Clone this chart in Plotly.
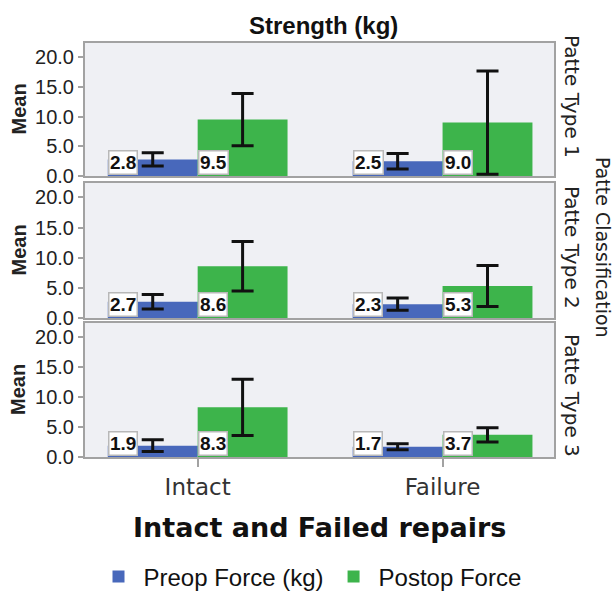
import plotly.graph_objects as go
from plotly.subplots import make_subplots

# ---------------- data ----------------
categories = ["Intact", "Failure"]
panel_names = ["Patte Type 1", "Patte Type 2", "Patte Type 3"]
series_names = ["Preop Force (kg)", "Postop Force"]

preop_t1 = [2.8, 2.5]
postop_t1 = [9.5, 9.0]
preop_err_t1 = [1.1, 1.3]
postop_err_t1 = [4.4, 8.7]

preop_t2 = [2.7, 2.3]
postop_t2 = [8.6, 5.3]
preop_err_t2 = [1.2, 1.0]
postop_err_t2 = [4.1, 3.4]

preop_t3 = [1.9, 1.7]
postop_t3 = [8.3, 3.7]
preop_err_t3 = [1.0, 0.5]
postop_err_t3 = [4.7, 1.2]

y_ticks = [0, 5, 10, 15, 20]

# ---------------- style ----------------
BLUE = "#4868bb"
GREEN = "#3db44b"
BORDER = "#a2a2a2"
PLOT_BG = "#eff0f4"
FONT_SANS = "Liberation Sans, Arial, sans-serif"
FONT_UI = "DejaVu Sans, Verdana, sans-serif"
BARGAP = 0.266
BAR_W = (1 - BARGAP) / 2

W, H = 613, 592
PLOT_LEFT, PLOT_RIGHT, PLOT_TOP, PLOT_BOTTOM = 85, 554, 43, 457
M_L, M_T = PLOT_LEFT, PLOT_TOP
M_R = W - PLOT_RIGHT
M_B = H - PLOT_BOTTOM
PLOT_H = PLOT_BOTTOM - PLOT_TOP
PLOT_W = PLOT_RIGHT - PLOT_LEFT
panel_px = [(43, 176), (183, 318), (323, 457)]  # top, bottom pixel rows
Y_MAX = 22.4


def py(pix):
    """pixel row -> paper y"""
    return (PLOT_BOTTOM - pix) / PLOT_H


def px(pix):
    """pixel column -> paper x"""
    return (pix - PLOT_LEFT) / PLOT_W


panels = [
    (preop_t1, postop_t1, preop_err_t1, postop_err_t1),
    (preop_t2, postop_t2, preop_err_t2, postop_err_t2),
    (preop_t3, postop_t3, preop_err_t3, postop_err_t3),
]

fig = make_subplots(rows=3, cols=1, shared_xaxes=False, vertical_spacing=0.02)
x_idx = list(range(len(categories)))
annotations = []

for r, (pre, post, pre_e, post_e) in enumerate(panels, start=1):
    for s, (vals, errs, col) in enumerate(
        [(pre, pre_e, BLUE), (post, post_e, GREEN)]
    ):
        fig.add_trace(
            go.Bar(
                x=x_idx,
                y=vals,
                name=series_names[s],
                marker=dict(color=col, line=dict(width=0)),
                error_y=dict(
                    type="data", array=errs, visible=True,
                    color="#111111", thickness=3, width=11,
                ),
                offsetgroup=str(s),
                showlegend=(r == 1),
                legendgroup=series_names[s],
                hoverinfo="skip",
            ),
            row=r, col=1,
        )
        xref = "x" if r == 1 else f"x{r}"
        yref = "y" if r == 1 else f"y{r}"
        for i, v in enumerate(vals):
            left = i - BAR_W if s == 0 else i
            annotations.append(dict(
                x=left, y=0, xref=xref, yref=yref,
                xanchor="left", yanchor="bottom", yshift=1,
                text=f"<b>{v:.1f}</b>", showarrow=False,
                font=dict(family=FONT_SANS, size=19, color="#111111"),
                bgcolor="white", bordercolor="#b8b8b8",
                borderwidth=1.5, borderpad=0.5,
            ))

    top, bot = panel_px[r - 1]
    dom = [py(bot), py(top)]
    yname = "yaxis" if r == 1 else f"yaxis{r}"
    xname = "xaxis" if r == 1 else f"xaxis{r}"
    fig.update_layout(**{
        yname: dict(
            domain=dom, range=[0, Y_MAX], tickvals=y_ticks,
            tickformat=".1f", ticks="outside", ticklen=5,
            tickcolor=BORDER, tickwidth=1.5,
            showline=True, mirror=True, linecolor=BORDER, linewidth=2,
            showgrid=False, zeroline=False,
            tickfont=dict(family=FONT_SANS, size=20, color="#222222"),
        ),
        xname: dict(
            range=[-0.46, 1.455], tickvals=x_idx, ticktext=categories,
            showticklabels=(r == 3), ticks="outside" if r == 3 else "",
            ticklen=8, tickcolor=BORDER, tickwidth=1.5,
            showline=True, mirror=True, linecolor=BORDER, linewidth=2,
            showgrid=False, zeroline=False,
            tickfont=dict(family=FONT_UI, size=23, color="#333333"),
        ),
    })
    mid = (top + bot) / 2
    annotations.append(dict(
        x=px(18), y=py(mid), xref="paper", yref="paper",
        xanchor="center", yanchor="middle", textangle=-90,
        text="<b>Mean</b>", showarrow=False,
        font=dict(family=FONT_SANS, size=20, color="#222222"),
    ))

label_centers = [96, 247, 395]
for name, c in zip(panel_names, label_centers):
    annotations.append(dict(
        x=px(572), y=py(c), xref="paper", yref="paper",
        xanchor="center", yanchor="middle", textangle=90,
        text=name, showarrow=False,
        font=dict(family=FONT_UI, size=20, color="#222222"),
    ))

annotations.append(dict(
    x=px(603), y=py(247), xref="paper", yref="paper",
    xanchor="center", yanchor="middle", textangle=90,
    text="Patte Classification", showarrow=False,
    font=dict(family=FONT_UI, size=19, color="#222222"),
))
annotations.append(dict(
    x=px(323), y=py(25), xref="paper", yref="paper",
    xanchor="center", yanchor="middle",
    text="<b>Strength (kg)</b>", showarrow=False,
    font=dict(family=FONT_SANS, size=24, color="#111111"),
))
annotations.append(dict(
    x=px(319), y=py(527), xref="paper", yref="paper",
    xanchor="center", yanchor="middle",
    text="<b>Intact and Failed repairs</b>", showarrow=False,
    font=dict(family=FONT_UI, size=27, color="#111111"),
))

fig.update_layout(
    width=W, height=H,
    margin=dict(l=M_L, r=M_R, t=M_T, b=M_B, autoexpand=False),
    paper_bgcolor="white", plot_bgcolor=PLOT_BG,
    barmode="group", bargap=BARGAP, bargroupgap=0,
    annotations=annotations,
    legend=dict(
        orientation="h", x=px(310), xanchor="center",
        y=py(577), yanchor="middle",
        font=dict(family=FONT_SANS, size=24, color="#111111"),
        bgcolor="rgba(0,0,0,0)",
        itemwidth=40,
    ),
    showlegend=True,
)

fig.write_html(
    "out.html",
    config={"displayModeBar": False},
    post_script="document.body.style.margin='0';document.body.style.overflow='hidden';",
)
